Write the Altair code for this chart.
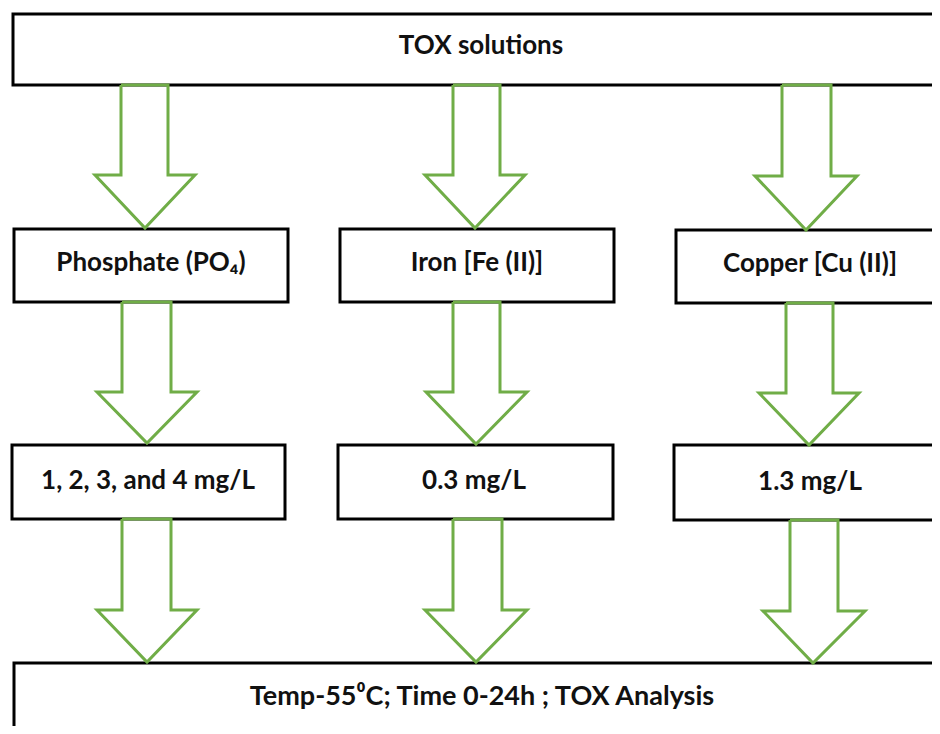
import altair as alt
import pandas as pd

# ---- boxes (flowchart nodes) ----
box_labels = ["TOX solutions", "Phosphate (PO\u2084)", "Iron [Fe (II)]", "Copper [Cu (II)]",
              "1, 2, 3, and 4 mg/L", "0.3 mg/L", "1.3 mg/L",
              "Temp-55\u2070C; Time 0-24h ; TOX Analysis"]
box_x0 = [13, 14, 340, 676, 12, 338, 674, 14]
box_x1 = [990, 288, 614, 990, 285, 613, 990, 990]
box_y0 = [14, 229, 229, 230, 445, 445, 445, 663]
box_y1 = [85, 302, 302, 303, 519, 519, 520, 790]
text_x = [481, 151, 477, 810, 148, 474, 810, 482]
text_y = [46, 263, 263, 264, 481, 481, 482, 697]

# ---- block arrows ----
arrow_id = ["a1", "a2", "a3", "b1", "b2", "b3", "c1", "c2", "c3"]
shaft_x0 = [121, 453, 782, 122, 453, 786, 122, 453, 790]
shaft_x1 = [168, 500, 831, 171, 500, 833, 171, 502, 838]
shaft_top = [85, 85, 85, 302, 302, 303, 519, 519, 520]
wing_y = [175, 175, 176, 392, 392, 393, 610, 610, 611]
head_x0 = [95, 425, 755, 97, 426, 759, 97, 425, 763]
head_x1 = [195, 525, 857, 197, 527, 859, 197, 527, 865]
tip_x = [145, 475, 806, 147, 476, 809, 147, 476, 813]
tip_y = [228, 228, 230, 443, 444, 445, 662, 662, 663]

boxes = pd.DataFrame({"label": box_labels, "x0": box_x0, "x1": box_x1,
                      "y0": box_y0, "y1": box_y1, "tx": text_x, "ty": text_y})

rows = []
for i, a in enumerate(arrow_id):
    pts = [(shaft_x0[i], shaft_top[i]), (shaft_x0[i], wing_y[i]), (head_x0[i], wing_y[i]),
           (tip_x[i], tip_y[i]), (head_x1[i], wing_y[i]), (shaft_x1[i], wing_y[i]),
           (shaft_x1[i], shaft_top[i]), (shaft_x0[i], shaft_top[i])]
    for k, (px, py) in enumerate(pts):
        rows.append({"arrow": a, "k": k, "x": px, "y": py})
arrows = pd.DataFrame(rows)

W, H = 924, 718
xs = alt.Scale(domain=[8, 8 + W])
ys = alt.Scale(domain=[8 + H, 8])

rects = alt.Chart(boxes).mark_rect(fill="white", stroke="black", strokeWidth=3, clip=True).encode(
    x=alt.X("x0:Q", scale=xs, axis=None), x2="x1:Q",
    y=alt.Y("y0:Q", scale=ys, axis=None), y2="y1:Q")

base_text = alt.Chart(boxes).encode(
    x=alt.X("tx:Q", scale=xs, axis=None), y=alt.Y("ty:Q", scale=ys, axis=None), text="label:N")

texts = base_text.transform_filter(alt.datum.y0 < 600).mark_text(
    font="Lato", fontWeight="bold", fontSize=26, color="#111111", align="center", baseline="middle")
bottom_text = base_text.transform_filter(alt.datum.y0 >= 600).mark_text(
    font="Lato", fontWeight="bold", fontSize=27, color="#111111", align="center", baseline="middle")

lines = alt.Chart(arrows).mark_line(color="#70ad47", strokeWidth=3, strokeJoin="miter", clip=True).encode(
    x=alt.X("x:Q", scale=xs, axis=None), y=alt.Y("y:Q", scale=ys, axis=None),
    detail="arrow:N", order="k:Q")

chart = alt.layer(rects, lines, texts, bottom_text).properties(
    width=W, height=H, padding=0, background="white"
).configure_view(strokeWidth=0)

chart.save("out.html", embed_options={"renderer": "svg", "actions": False})
